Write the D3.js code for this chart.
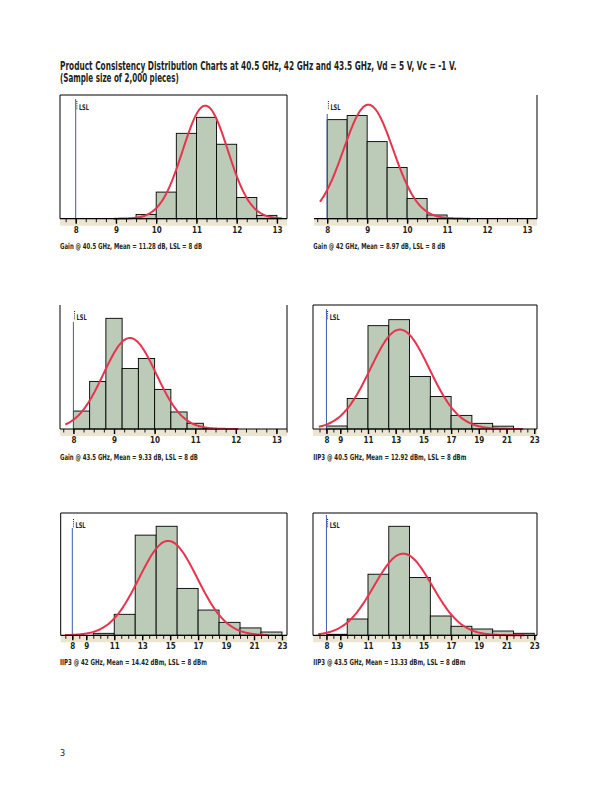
<!DOCTYPE html>
<html><head><meta charset="utf-8">
<script src="https://cdn.jsdelivr.net/npm/d3@7"></script>
<style>
html,body{margin:0;padding:0;background:#fff;}
svg{display:block;}
text{font-family:"Liberation Sans Narrow","DejaVu Sans Condensed","Liberation Sans",sans-serif;}
</style></head>
<body>
<svg id="page" width="612" height="792"></svg>
<script>
// ---------- DATA ----------
const titleLines = ["Product Consistency Distribution Charts at 40.5 GHz, 42 GHz and 43.5 GHz, Vd = 5 V, Vc = -1 V.",
                    "(Sample size of 2,000 pieces)"];
const pageNumber = "3";
const sampleSize = 2000;
const lsl = 8;

const gainTicks = [8, 9, 10, 11, 12, 13];
const iip3Ticks = [8, 9, 11, 13, 15, 17, 19, 21, 23];

// Gain @ 40.5 GHz
const gain405BinStarts = [9.5, 10, 10.5, 11, 11.5, 12, 12.5];
const gain405Counts    = [27, 168, 539, 640, 470, 134, 21];
// Gain @ 42 GHz
const gain42BinStarts  = [8, 8.5, 9, 9.5, 10, 10.5];
const gain42Counts     = [559, 582, 435, 289, 114, 21];
// Gain @ 43.5 GHz
const gain435BinStarts = [8.0, 8.4, 8.8, 9.2, 9.6, 10.0, 10.4, 10.8, 11.2];
const gain435Counts    = [97, 257, 598, 327, 381, 214, 92, 31, 3];
// IIP3 @ 40.5 GHz
const iip405BinStarts  = [8, 9.5, 11, 12.5, 14, 15.5, 17, 18.5, 20];
const iip405Counts     = [17, 173, 585, 619, 297, 184, 77, 32, 16];
// IIP3 @ 42 GHz
const iip42BinStarts   = [9.5, 11, 12.5, 14, 15.5, 17, 18.5, 20, 21.5];
const iip42Counts      = [12, 128, 611, 665, 286, 154, 79, 45, 20];
// IIP3 @ 43.5 GHz
const iip435BinStarts  = [8, 9.5, 11, 12.5, 14, 15.5, 17, 18.5, 20, 21.5];
const iip435Counts     = [7, 114, 427, 762, 404, 135, 63, 44, 30, 14];

const binWidths   = [0.5, 0.5, 0.4, 1.5, 1.5, 1.5];
// fitted normal curve: fit centre, spread and drawn extent
const fitCentres  = [11.22, 9.03, 9.39, 13.3, 14.86, 13.54];
const fitSigmas   = [0.559, 0.62, 0.649, 2.126, 2.078, 2.096];
const fitFrom     = [8.94, 7.82, 7.8, 7.45, 7.48, 7.4];
const fitTo       = [13.12, 11.58, 12.06, 22.2, 22.0, 22.3];

const captions = [
  "Gain @ 40.5 GHz, Mean = 11.28 dB, LSL = 8 dB",
  "Gain @ 42 GHz, Mean = 8.97 dB, LSL = 8 dB",
  "Gain @ 43.5 GHz, Mean = 9.33 dB, LSL = 8 dB",
  "IIP3 @ 40.5 GHz, Mean = 12.92 dBm, LSL = 8 dBm",
  "IIP3 @ 42 GHz, Mean = 14.42 dBm, LSL = 8 dBm",
  "IIP3 @ 43.5 GHz, Mean = 13.33 dBm, LSL = 8 dBm"
];

// ---------- LAYOUT ----------
const panels = [
  {starts: gain405BinStarts, counts: gain405Counts, ticks: gainTicks, minor: 0.25,
   left: 60, right: 287, top: 95, base: 218.7, xd: [7.61, 13.25], ymax: 781, lslTop: 4,
   borders: {top: true, left: true, right: true}, capW: 142, capY: 249.3},
  {starts: gain42BinStarts, counts: gain42Counts, ticks: gainTicks, minor: 0.25,
   left: 314, right: 537, top: 95, base: 218.7, xd: [7.67, 13.25], ymax: 698, lslTop: 19,
   borders: {top: false, left: false, right: true}, capW: 132, capY: 249.3},
  {starts: gain435BinStarts, counts: gain435Counts, ticks: gainTicks, minor: 0.25,
   left: 60, right: 287, top: 305, base: 429, xd: [7.67, 13.26], ymax: 670, lslTop: 17,
   borders: {top: false, left: true, right: true}, capW: 138, capY: 460.3},
  {starts: iip405BinStarts, counts: iip405Counts, ticks: iip3Ticks, minor: 0.5,
   left: 313, right: 537, top: 305, base: 429, xd: [7.03, 23.2], ymax: 702, lslTop: 4,
   borders: {top: true, left: true, right: true}, capW: 153, capY: 460.3},
  {starts: iip42BinStarts, counts: iip42Counts, ticks: iip3Ticks, minor: 0.5,
   left: 60.7, right: 287, top: 513, base: 635.3, xd: [7.17, 23.36], ymax: 746, lslTop: 15,
   borders: {top: true, left: true, right: true}, capW: 147, capY: 665},
  {starts: iip435BinStarts, counts: iip435Counts, ticks: iip3Ticks, minor: 0.5,
   left: 313, right: 537, top: 513, base: 635.3, xd: [7.03, 23.2], ymax: 855, lslTop: 2,
   borders: {top: true, left: true, right: true}, capW: 152, capY: 665}
];

const COL = {bar: "#bccab8", curve: "#e8334c", lsl: "#3b5cab", band: "#ece5d1", ink: "#231f20"};

const svg = d3.select("#page");

// text fitted to a given width by horizontal scaling (condensed face look)
function fitText(parent, str, x, y, width, size, weight) {
  const t = parent.append("text").attr("x", 0).attr("y", 0)
    .attr("font-size", size).attr("font-weight", weight || "bold").attr("fill", COL.ink).text(str);
  const nat = t.node().getComputedTextLength() || width;
  t.attr("transform", `translate(${x},${y}) scale(${width / nat},1)`);
  return t;
}

// title
fitText(svg, titleLines[0], 60, 69.5, 397, 11.5);
fitText(svg, titleLines[1], 60, 82, 119, 11.5);

panels.forEach((p, i) => {
  const g = svg.append("g");
  const x = d3.scaleLinear().domain(p.xd).range([p.left, p.right]);
  const y = d3.scaleLinear().domain([0, p.ymax]).range([p.base, p.top]);
  const bw = binWidths[i];

  // axis band
  g.append("rect").attr("x", p.left).attr("y", p.base).attr("width", p.right - p.left).attr("height", 7)
    .attr("fill", COL.band);

  // bars
  const bins = p.starts.map((s, k) => ({x0: s, x1: s + bw, n: p.counts[k]}));
  g.selectAll("rect.bar").data(bins).join("rect").attr("class", "bar")
    .attr("x", d => x(d.x0)).attr("width", d => x(d.x1) - x(d.x0))
    .attr("y", d => y(d.n)).attr("height", d => y(0) - y(d.n))
    .attr("fill", COL.bar).attr("stroke", "#000").attr("stroke-width", 0.9);

  // LSL line
  g.append("line").attr("x1", x(lsl)).attr("x2", x(lsl))
    .attr("y1", p.top + p.lslTop).attr("y2", p.base)
    .attr("stroke", COL.lsl).attr("stroke-width", 1);
  g.append("line").attr("x1", x(lsl) + 1.2).attr("x2", x(lsl) + 1.2)
    .attr("y1", p.top + 6).attr("y2", p.top + 15)
    .attr("stroke", "#000").attr("stroke-width", 0.9).attr("stroke-dasharray", "1,1.2");
  fitText(g, "LSL", x(lsl) + 3.2, p.top + 15.3, 10, 7.8);

  // fitted normal curve
  const pts = d3.range(fitFrom[i], fitTo[i] + 1e-9, (fitTo[i] - fitFrom[i]) / 200);
  const dens = v => sampleSize * bw / (fitSigmas[i] * Math.sqrt(2 * Math.PI)) *
                    Math.exp(-0.5 * Math.pow((v - fitCentres[i]) / fitSigmas[i], 2));
  g.append("path").datum(pts)
    .attr("d", d3.line().x(v => x(v)).y(v => y(dens(v))).curve(d3.curveBasis))
    .attr("fill", "none").attr("stroke", COL.curve).attr("stroke-width", 2)
    .attr("stroke-linejoin", "round");

  // frame
  const b = p.borders;
  if (b.top) g.append("line").attr("x1", p.left).attr("x2", p.right).attr("y1", p.top).attr("y2", p.top)
      .attr("stroke", "#000").attr("stroke-width", 1);
  if (b.left) g.append("line").attr("x1", p.left).attr("x2", p.left).attr("y1", p.top).attr("y2", p.base)
      .attr("stroke", "#000").attr("stroke-width", 1);
  if (b.right) g.append("line").attr("x1", p.right).attr("x2", p.right).attr("y1", p.top).attr("y2", p.base)
      .attr("stroke", "#000").attr("stroke-width", 1);

  // axis: minor ticks, major ticks, labels, baseline
  const minorVals = d3.range(Math.ceil(p.xd[0] / p.minor) * p.minor, p.xd[1], p.minor);
  const axMinor = d3.axisBottom(x).tickValues(minorVals).tickSize(3.5).tickFormat("");
  const gm = g.append("g").attr("transform", `translate(0,${p.base})`).call(axMinor);
  gm.select(".domain").remove();
  gm.selectAll(".tick line").attr("stroke", "#000").attr("stroke-width", 0.9);

  const axMajor = d3.axisBottom(x).tickValues(p.ticks).tickSize(5).tickPadding(3.3)
    .tickFormat(d3.format("d"));
  const ga = g.append("g").attr("transform", `translate(0,${p.base})`).call(axMajor);
  ga.select(".domain").remove();
  ga.selectAll(".tick line").attr("stroke", "#000").attr("stroke-width", 1.4);
  ga.selectAll(".tick text").attr("font-size", 8).attr("font-weight", "bold")
    .attr("fill", COL.ink).attr("font-family", '"Liberation Sans Narrow","DejaVu Sans Condensed",sans-serif');

  g.append("line").attr("x1", p.left).attr("x2", p.right).attr("y1", p.base).attr("y2", p.base)
    .attr("stroke", "#000").attr("stroke-width", 1.2);

  // caption
  fitText(svg, captions[i], p.left < 100 ? 60 : 313.3, p.capY, p.capW, 8.2);
});

svg.append("text").attr("x", 60).attr("y", 756).attr("font-size", 9).attr("fill", COL.ink)
  .text(pageNumber);
</script>
</body></html>
